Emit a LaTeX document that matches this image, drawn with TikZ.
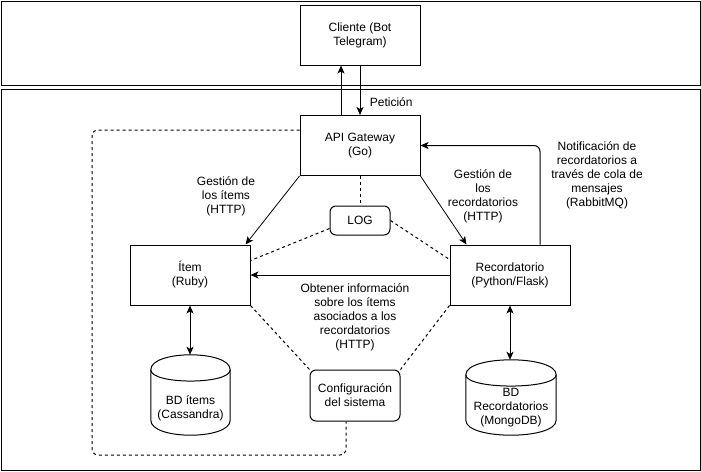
\documentclass[tikz,border=0pt]{standalone}
\usepackage{fontspec}
\setmainfont{Liberation Sans}
\usetikzlibrary{arrows.meta}

\begin{document}
\begin{tikzpicture}
[
	x=1pt,y=-1pt,
	every node/.style={font=\fontsize{12}{14}\selectfont,align=center},
	sq/.style={rectangle,draw,line width=1,minimum width=120,minimum height=60},
	rd/.style={rectangle,draw,rounded corners=6,line width=1},
	db/.style={rectangle,minimum width=79,minimum height=80},
	dsh/.style={line width=1,dash pattern=on 3pt off 3pt},
	arr/.style={line width=1,-{Stealth[length=8,width=7,inset=2]}},
	darr/.style={line width=1,{Stealth[length=8,width=7,inset=2]}-{Stealth[length=8,width=7,inset=2]}}
]

\useasboundingbox (0,0) rectangle (701,471);

\draw[line width=1] (1,1) rectangle (700,85);
\draw[line width=1] (1,89) rectangle (700,470);

\node[sq] (cli) at (360,35) {Cliente (Bot\\Telegram)};
\node[sq] (api) at (360,145.5) {API Gateway\\(Go)};

\node[sq] (item) at (190,275) {Ítem\\(Ruby)};
\node[sq] (rec) at (510,275) {Recordatorio\\(Python/Flask)};

\node[rd,minimum width=60,minimum height=29] (log) at (360,220.5) {LOG};
\node[rd,minimum width=90,minimum height=51] (cfg) at (355,395.5) {Configuración\\del sistema};

\node[db,label={[yshift=-13pt]center:BD ítems\\(Cassandra)}] (bdi) at (190.5,395) {};
\node[db,minimum width=90,minimum height=75,label={[yshift=-10.5pt]center:BD\\Recordatorios\\(MongoDB)}] (bdr) at (511,397.5) {};

\foreach \n in {bdi,bdr} {
	\draw[line width=1] ([yshift=-15pt]\n.north west) .. controls ([yshift=5pt]\n.north west) and ([yshift=5pt]\n.north east) .. ([yshift=-15pt]\n.north east) -- ([yshift=15pt]\n.south east) .. controls ([yshift=-5pt]\n.south east) and ([yshift=-5pt]\n.south west) .. ([yshift=15pt]\n.south west) -- cycle;
	\draw[line width=1] ([yshift=-15pt]\n.north west) .. controls ([yshift=-30pt]\n.north west) and ([yshift=-30pt]\n.north east) .. ([yshift=-15pt]\n.north east);
}

\draw[arr] ([xshift=-19pt]api.north) -- ([xshift=-19pt]cli.south);
\draw[arr] (cli.south) -- (api.north) node[pos=0.75,right=6pt] (pet) {Petición};

\draw[arr,line width=0.8] (api.south west) -- ([xshift=-5pt]item.north east);
\draw[arr,line width=0.8] (api.south east) -- ([xshift=17pt]rec.north west);
\draw[arr,rounded corners=6] ([xshift=30pt]rec.north) |- (api.east);
\draw[arr] (rec.west) -- (item.east);

\draw[darr] (item.south) -- (item.south |- bdi.north);
\draw[darr] (rec.south) -- (rec.south |- bdr.north);

\node (lblitems) at (226,196) {Gestión de\\los ítems\\(HTTP)};
\node (lblrec) at (483,196) {Gestión de\\los\\recordatorios\\(HTTP)};
\node (lblnot) at (597,175) {Notificación de\\recordatorios a\\través de cola de\\mensajes\\(RabbitMQ)};
\node (lblobt) at (355,317) {Obtener información\\sobre los ítems\\asociados a los\\recordatorios\\(HTTP)};

% dashed links
\draw[dsh] (api.south) -- (log.north);
\draw[dsh] ([yshift=7pt]log.south west) -- ([yshift=-16pt]item.north east);
\draw[dsh] (log.east) -- ([yshift=-15pt]rec.north west);
\draw[dsh] (item.south east) -- (cfg.north west);
\draw[dsh] (rec.south west) -- (cfg.north east);

\coordinate (lp) at (92,455);
\draw[dsh,rounded corners=6] ([yshift=15.5pt]api.west) -| (lp) -| ([xshift=-9pt]cfg.south);

\end{tikzpicture}
\end{document}
